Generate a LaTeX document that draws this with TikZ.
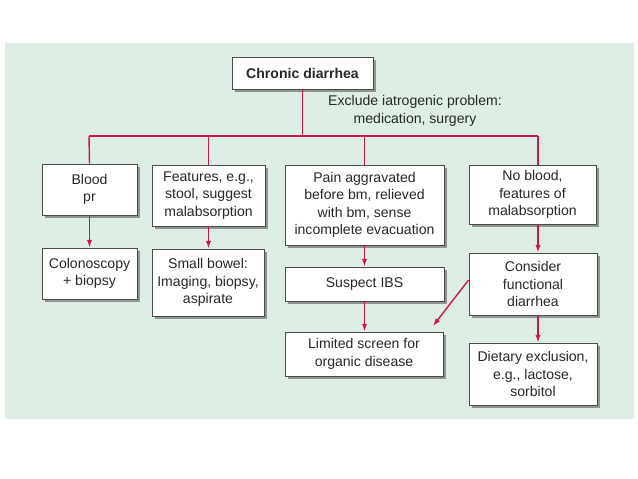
\documentclass[tikz,border=0pt]{standalone}
\usepackage{fontspec}
\setmainfont{Liberation Sans}
\usetikzlibrary{positioning,shadows,arrows.meta}

\definecolor{flowred}{RGB}{203,24,74}
\definecolor{panelgreen}{RGB}{223,238,229}
\definecolor{boxedge}{RGB}{75,75,75}
\definecolor{inktext}{RGB}{40,40,40}

\tikzset{
  box/.style={draw=boxedge, line width=0.6pt, fill=white, align=center, inner sep=0pt,
    text=inktext, font=\fontsize{10}{12.3}\selectfont,
    drop shadow={shadow xshift=0.07cm, shadow yshift=-0.07cm, fill=black!70, opacity=0.55}},
  wire/.style={draw=flowred, line width=1pt},
  arrow/.style={wire, -{Latex[length=5.5pt,width=3.8pt]}},
}

\begin{document}
\begin{tikzpicture}[x=0.025cm, y=-0.025cm]
  \useasboundingbox (0,0) rectangle (638,479);
  \fill[panelgreen] (5,43) rectangle (634,419);

  % TOP
  \node[box, minimum width=3.525cm, minimum height=0.8cm, font=\fontsize{10}{12.3}\selectfont\bfseries] (chronic) at (302.5,73) {Chronic diarrhea};
  \node[align=center, text=inktext, font=\fontsize{10}{12.3}\selectfont] (exclude) at (415,111) {Exclude iatrogenic problem:\\medication, surgery};

  % FIRST ROW
  \node[box, minimum width=2.375cm, minimum height=1.275cm] (blood) at (89.5,189.5) {Blood\\pr};
  \node[box, minimum width=2.825cm, minimum height=1.525cm] (features) at (208.5,195.5) {Features, e.g.,\\stool, suggest\\malabsorption};
  \node[box, minimum width=3.975cm, minimum height=2cm] (pain) at (364.5,205) {Pain aggravated\\before bm, relieved\\with bm, sense\\incomplete evacuation};
  \node[box, minimum width=3.175cm, minimum height=1.475cm] (noblood) at (532.5,194.5) {No blood,\\features of\\malabsorption};

  % SECOND ROW
  \node[box, minimum width=2.375cm, minimum height=1.275cm] (colon) at (89.5,273.5) {Colonoscopy\\+ biopsy};
  \node[box, minimum width=2.8cm, minimum height=1.675cm] (bowel) at (208,282.5) {Small bowel:\\Imaging, biopsy,\\aspirate};
  \node[box, minimum width=3.975cm, minimum height=0.85cm] (ibs) at (364.5,284) {Suspect IBS};
  \node[box, minimum width=3.2cm, minimum height=1.55cm] (functional) at (533,284) {Consider\\functional\\diarrhea};

  % THIRD ROW
  \node[box, minimum width=3.95cm, minimum height=1.1cm] (screen) at (364,354) {Limited screen for\\organic disease};
  \node[box, minimum width=3.2cm, minimum height=1.55cm] (dietary) at (533,374) {Dietary exclusion,\\e.g., lactose,\\sorbitol};

  % BUS
  \coordinate (busL) at (89,136);
  \coordinate (busR) at (538,136);
  \coordinate (tip) at (433,326);
  \draw[wire] (chronic.south) -- (chronic.south |- busL);
  \draw[wire] (busL) -- (busR);
  \draw[wire] (busL) -- (blood.north);
  \draw[wire] (features.north |- busL) -- (features.north);
  \draw[wire] (pain.north |- busL) -- (pain.north);
  \draw[wire] (busR) -- (busR |- noblood.north);

  % ARROWS
  \draw[arrow] (blood) -- (colon);
  \draw[arrow] (features) -- (features |- bowel.north);
  \draw[arrow] (pain) -- (pain |- ibs.north);
  \draw[arrow] (ibs) -- (ibs |- screen.north);
  \draw[arrow] (busR |- noblood.south) -- (busR |- functional.north);
  \draw[arrow] (busR |- functional.south) -- (busR |- dietary.north);
  \draw[arrow] ([yshift=0.1cm]functional.west) -- (tip);
\end{tikzpicture}
\end{document}
